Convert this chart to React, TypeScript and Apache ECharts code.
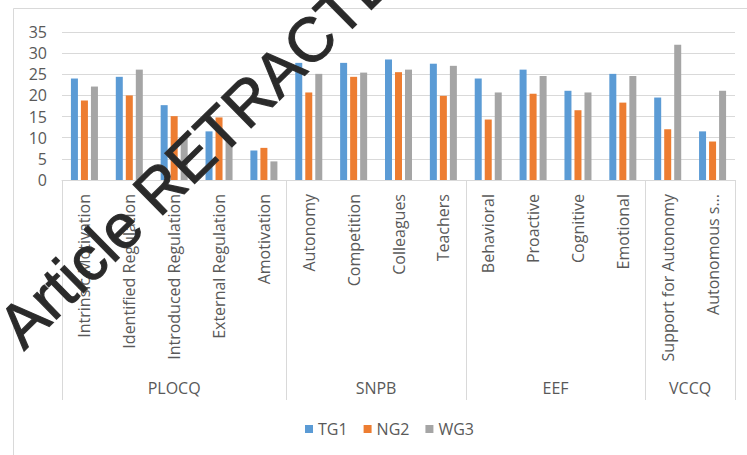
import React, { useEffect, useRef } from "react";
import * as echarts from "echarts";

const categories = [
  "Intrinsic Motivation",
  "Identified Regulation",
  "Introduced Regulation",
  "External Regulation",
  "Amotivation",
  "Autonomy",
  "Competition",
  "Colleagues",
  "Teachers",
  "Behavioral",
  "Proactive",
  "Cognitive",
  "Emotional",
  "Support for Autonomy",
  "Autonomous s...",
];
const groupNames = ["PLOCQ", "SNPB", "EEF", "VCCQ"];
const groupSizes = [5, 4, 4, 2];

const tg1 = [24.0, 24.4, 17.7, 11.5, 7.0, 27.7, 27.7, 28.5, 27.5, 24.0, 26.1, 21.1, 25.1, 19.5, 11.5];
const ng2 = [18.8, 20.0, 15.1, 14.8, 7.6, 20.7, 24.4, 25.5, 19.9, 14.3, 20.4, 16.5, 18.3, 12.0, 9.1];
const wg3 = [22.1, 26.1, 10.2, 9.4, 4.4, 25.1, 25.4, 26.1, 27.0, 20.7, 24.6, 20.7, 24.6, 32.0, 21.1];

const seriesNames = ["TG1", "NG2", "WG3"];
const seriesColors = ["#5B9BD5", "#ED7D31", "#A5A5A5"];
const yTicks = [0, 5, 10, 15, 20, 25, 30, 35];

export default function App() {
  const ref = useRef<HTMLDivElement>(null);
  useEffect(() => {
    if (!ref.current) return;
    const chart = echarts.init(ref.current, null, { renderer: "svg" });

    // group axis: half-category points 0..2N
    const n = categories.length;
    const groupAxisData: string[] = new Array(2 * n + 1).fill("");
    const boundaries: number[] = [0];
    let acc = 0;
    groupSizes.forEach((s, i) => {
      groupAxisData[acc * 2 + s] = groupNames[i];
      acc += s;
      boundaries.push(acc * 2);
    });

    const font = "'Open Sans', sans-serif";
    const txt = "#595959";
    const line = "#D9D9D9";
    const theta = (44.5 * Math.PI) / 180;

    chart.setOption({
      animation: false,
      grid: { left: 62, right: 12, top: 32, bottom: 275 },
      legend: {
        data: seriesNames,
        left: 300,
        top: 416,
        itemWidth: 8,
        itemHeight: 8,
        itemGap: 16,
        icon: "rect",
        textStyle: { fontFamily: font, fontSize: 16, color: txt },
      },
      xAxis: [
        {
          type: "category",
          data: categories,
          position: "bottom",
          axisLine: { lineStyle: { color: line } },
          axisTick: { show: false },
          axisLabel: {
            rotate: 90,
            interval: 0,
            margin: 14,
            fontFamily: font,
            fontSize: 16,
            color: txt,
          },
        },
        {
          type: "category",
          data: groupAxisData,
          boundaryGap: false,
          position: "bottom",
          axisLine: { show: false },
          axisTick: {
            show: true,
            length: 220,
            interval: (idx: number) => boundaries.indexOf(idx) >= 0,
            lineStyle: { color: line },
          },
          axisLabel: {
            interval: 0,
            margin: 200,
            fontFamily: font,
            fontSize: 16,
            color: txt,
          },
        },
      ],
      yAxis: {
        type: "value",
        min: yTicks[0],
        max: yTicks[yTicks.length - 1],
        interval: 5,
        axisLine: { show: false },
        axisTick: { show: false },
        splitLine: { lineStyle: { color: line } },
        axisLabel: { fontFamily: font, fontSize: 16, color: txt, margin: 15 },
      },
      series: [tg1, ng2, wg3].map((d, i) => ({
        name: seriesNames[i],
        type: "bar",
        xAxisIndex: 0,
        data: d,
        barWidth: 7,
        barGap: "43%",
        itemStyle: { color: seriesColors[i] },
      })),
      graphic: [
        {
          type: "rect",
          shape: { x: 13.5, y: 8.5, width: 800, height: 500 },
          style: { fill: "none", stroke: line, lineWidth: 1 },
          z: 0,
          silent: true,
        },
        {
          type: "text",
          x: 9,
          y: 336,
          rotation: theta,
          z: 100,
          style: {
            text: "Article RETRACTED",
            fontFamily: "'Liberation Sans', Arial, sans-serif",
            fontSize: 62,
            fill: "#2a2a2a",
            stroke: "#3a3a3a",
            lineWidth: 1.2,
            align: "left",
            verticalAlign: "middle",
          },
          silent: true,
        },
      ],
    });
    return () => chart.dispose();
  }, []);
  return (
    <div
      ref={ref}
      style={{ position: "fixed", left: 0, top: 0, width: 747, height: 455, background: "#fff" }}
    />
  );
}
